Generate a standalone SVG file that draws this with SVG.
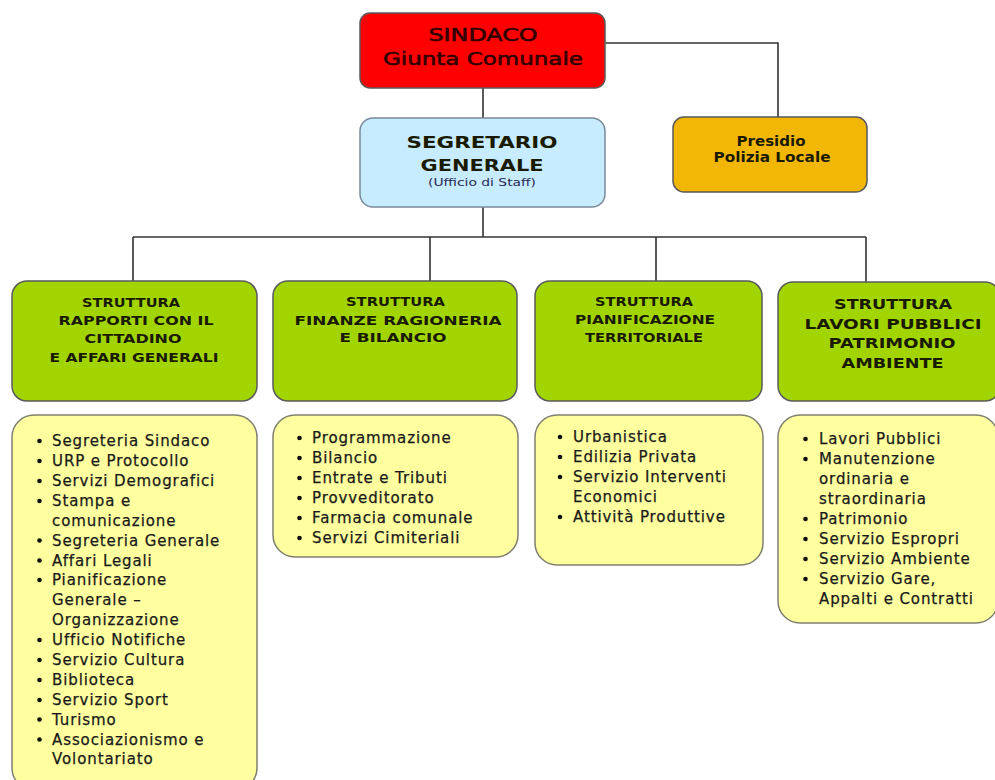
<svg xmlns="http://www.w3.org/2000/svg" width="995" height="780" viewBox="0 0 995 780">
<style>
.box{stroke:#5a5a5a;stroke-width:1.5}
.red{fill:#ff0000}
.blue{fill:#c8ecff;stroke:#7a8a99}
.orange{fill:#f2b705}
.green{fill:#a2d400}
.yellow{fill:#ffffa0;stroke:#808070}
.conn{fill:none;stroke:#333;stroke-width:1.6}
.hd{font-family:"DejaVu Sans",Verdana,sans-serif;font-weight:bold;text-anchor:middle;fill:#1a1a00}
.li{font-family:"DejaVu Sans",Verdana,sans-serif;font-size:15px;letter-spacing:0.9px;fill:#1a1a1a;stroke:#1a1a1a;stroke-width:0.25}
.bu{fill:#111}
.top{font-family:"DejaVu Sans",Verdana,sans-serif;font-size:18px;text-anchor:middle;fill:#330000;stroke:#330000;stroke-width:0.6}
</style>
<rect width="995" height="780" fill="#ffffff"/>
<g id="connectors">
<path class="conn" d="M483 88V118"/>
<path class="conn" d="M605 43H778V117"/>
<path class="conn" d="M483 207V237"/>
<path class="conn" d="M133 237H866"/>
<path class="conn" d="M133 237V281M430 237V281M656 237V281M866 237V282"/>
</g>
<g id="sindaco">
<rect class="box red" x="360" y="13" width="245" height="75" rx="10"/>
<text class="top" x="483" y="41" textLength="109" lengthAdjust="spacingAndGlyphs">SINDACO</text>
<text class="top" x="483" y="65" textLength="200" lengthAdjust="spacingAndGlyphs">Giunta Comunale</text>
</g>
<g id="segretario">
<rect class="box blue" x="360" y="118" width="245" height="89" rx="13"/>
<text class="hd" x="482" y="148" font-size="16.5" fill="#10102a" textLength="151" lengthAdjust="spacingAndGlyphs">SEGRETARIO</text>
<text class="hd" x="482" y="171" font-size="16.5" fill="#10102a" textLength="123" lengthAdjust="spacingAndGlyphs">GENERALE</text>
<text x="482" y="186" font-family="DejaVu Sans,Verdana,sans-serif" font-size="11" text-anchor="middle" fill="#2a2a55" textLength="108" lengthAdjust="spacingAndGlyphs">(Ufficio di Staff)</text>
</g>
<g id="presidio">
<rect class="box orange" x="673" y="117" width="194" height="75" rx="11"/>
<text class="hd" x="771" y="146" font-size="14" fill="#2a1a00" textLength="69" lengthAdjust="spacingAndGlyphs">Presidio</text>
<text class="hd" x="772" y="162" font-size="14" fill="#2a1a00" textLength="117" lengthAdjust="spacingAndGlyphs">Polizia Locale</text>
</g>
<g id="struttura-affari">
<rect class="box green" x="12" y="281" width="245" height="120" rx="15"/>
<text class="hd" x="131" y="307" font-size="13" textLength="98" lengthAdjust="spacingAndGlyphs">STRUTTURA</text>
<text class="hd" x="136" y="325" font-size="13" textLength="155" lengthAdjust="spacingAndGlyphs">RAPPORTI CON IL</text>
<text class="hd" x="133" y="343" font-size="13" textLength="97" lengthAdjust="spacingAndGlyphs">CITTADINO</text>
<text class="hd" x="134" y="361.5" font-size="13" textLength="169" lengthAdjust="spacingAndGlyphs">E AFFARI GENERALI</text>
</g>
<g id="struttura-finanze">
<rect class="box green" x="273" y="281" width="244" height="120" rx="15"/>
<text class="hd" x="395.5" y="306" font-size="13" textLength="99" lengthAdjust="spacingAndGlyphs">STRUTTURA</text>
<text class="hd" x="398" y="324.5" font-size="13" textLength="207" lengthAdjust="spacingAndGlyphs">FINANZE RAGIONERIA</text>
<text class="hd" x="393" y="342" font-size="13" textLength="107" lengthAdjust="spacingAndGlyphs">E BILANCIO</text>
</g>
<g id="struttura-pianificazione">
<rect class="box green" x="535" y="281" width="227" height="120" rx="15"/>
<text class="hd" x="644" y="306" font-size="13" textLength="98" lengthAdjust="spacingAndGlyphs">STRUTTURA</text>
<text class="hd" x="645" y="324" font-size="13" textLength="140" lengthAdjust="spacingAndGlyphs">PIANIFICAZIONE</text>
<text class="hd" x="644" y="342" font-size="13" textLength="118" lengthAdjust="spacingAndGlyphs">TERRITORIALE</text>
</g>
<g id="struttura-lavori">
<rect class="box green" x="778" y="282" width="222" height="119" rx="15"/>
<text class="hd" x="893" y="308.5" font-size="14.5" textLength="118" lengthAdjust="spacingAndGlyphs">STRUTTURA</text>
<text class="hd" x="893" y="328.5" font-size="14.5" textLength="177" lengthAdjust="spacingAndGlyphs">LAVORI PUBBLICI</text>
<text class="hd" x="892" y="348" font-size="14.5" textLength="127" lengthAdjust="spacingAndGlyphs">PATRIMONIO</text>
<text class="hd" x="892.5" y="368" font-size="14.5" textLength="102" lengthAdjust="spacingAndGlyphs">AMBIENTE</text>
</g>
<g id="servizi-affari">
<rect class="box yellow" x="12" y="415" width="245" height="375" rx="22"/>
<g class="bu">
<circle cx="39.5" cy="441" r="2.3"/><circle cx="39.5" cy="461" r="2.3"/><circle cx="39.5" cy="481" r="2.3"/><circle cx="39.5" cy="501" r="2.3"/>
<circle cx="39.5" cy="540.5" r="2.3"/><circle cx="39.5" cy="560.5" r="2.3"/><circle cx="39.5" cy="580" r="2.3"/>
<circle cx="39.5" cy="640" r="2.3"/><circle cx="39.5" cy="660" r="2.3"/><circle cx="39.5" cy="680" r="2.3"/><circle cx="39.5" cy="700" r="2.3"/><circle cx="39.5" cy="719.5" r="2.3"/><circle cx="39.5" cy="739.5" r="2.3"/>
</g>
<text class="li" x="52" y="446">Segreteria Sindaco</text>
<text class="li" x="52" y="466">URP e Protocollo</text>
<text class="li" x="52" y="486">Servizi Demografici</text>
<text class="li" x="52" y="506">Stampa e</text>
<text class="li" x="52" y="526">comunicazione</text>
<text class="li" x="52" y="545.5">Segreteria Generale</text>
<text class="li" x="52" y="565.5">Affari Legali</text>
<text class="li" x="52" y="585">Pianificazione</text>
<text class="li" x="52" y="605">Generale –</text>
<text class="li" x="52" y="625">Organizzazione</text>
<text class="li" x="52" y="645">Ufficio Notifiche</text>
<text class="li" x="52" y="665">Servizio Cultura</text>
<text class="li" x="52" y="685">Biblioteca</text>
<text class="li" x="52" y="705">Servizio Sport</text>
<text class="li" x="52" y="724.5">Turismo</text>
<text class="li" x="52" y="744.5">Associazionismo e</text>
<text class="li" x="52" y="764">Volontariato</text>
</g>
<g id="servizi-finanze">
<rect class="box yellow" x="273" y="415" width="245" height="142" rx="22"/>
<g class="bu">
<circle cx="299.5" cy="438" r="2.3"/><circle cx="299.5" cy="458" r="2.3"/><circle cx="299.5" cy="478" r="2.3"/><circle cx="299.5" cy="498" r="2.3"/><circle cx="299.5" cy="518" r="2.3"/><circle cx="299.5" cy="538" r="2.3"/>
</g>
<text class="li" x="312" y="443">Programmazione</text>
<text class="li" x="312" y="463">Bilancio</text>
<text class="li" x="312" y="483">Entrate e Tributi</text>
<text class="li" x="312" y="503">Provveditorato</text>
<text class="li" x="312" y="523">Farmacia comunale</text>
<text class="li" x="312" y="543">Servizi Cimiteriali</text>
</g>
<g id="servizi-pianificazione">
<rect class="box yellow" x="535" y="415" width="228" height="150" rx="22"/>
<g class="bu">
<circle cx="560" cy="437" r="2.3"/><circle cx="560" cy="457" r="2.3"/><circle cx="560" cy="477" r="2.3"/><circle cx="560" cy="517" r="2.3"/>
</g>
<text class="li" x="573" y="442">Urbanistica</text>
<text class="li" x="573" y="462">Edilizia Privata</text>
<text class="li" x="573" y="482">Servizio Interventi</text>
<text class="li" x="573" y="502">Economici</text>
<text class="li" x="573" y="522">Attività Produttive</text>
</g>
<g id="servizi-lavori">
<rect class="box yellow" x="778" y="415" width="220" height="208" rx="22"/>
<g class="bu">
<circle cx="805.5" cy="439" r="2.3"/><circle cx="805.5" cy="459" r="2.3"/><circle cx="805.5" cy="519" r="2.3"/><circle cx="805.5" cy="539" r="2.3"/><circle cx="805.5" cy="559" r="2.3"/><circle cx="805.5" cy="579" r="2.3"/>
</g>
<text class="li" x="819" y="444">Lavori Pubblici</text>
<text class="li" x="819" y="464">Manutenzione</text>
<text class="li" x="819" y="484">ordinaria e</text>
<text class="li" x="819" y="504">straordinaria</text>
<text class="li" x="819" y="524">Patrimonio</text>
<text class="li" x="819" y="544">Servizio Espropri</text>
<text class="li" x="819" y="564">Servizio Ambiente</text>
<text class="li" x="819" y="584">Servizio Gare,</text>
<text class="li" x="819" y="604">Appalti e Contratti</text>
</g>
</svg>
